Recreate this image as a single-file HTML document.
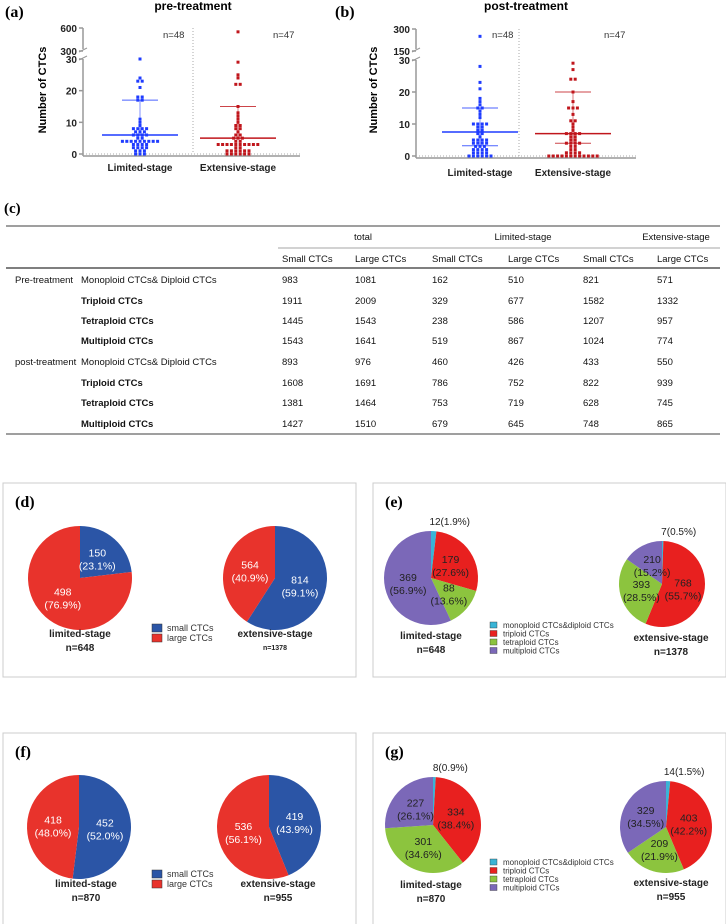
<!DOCTYPE html>
<html><head><meta charset="utf-8"><style>
body{margin:0;background:#fff;width:726px;height:924px;overflow:hidden;font-family:"Liberation Sans",sans-serif}
svg{position:absolute;left:0;top:0}
</style></head><body>
<svg id="s" width="726" height="924" viewBox="0 0 726 924"></svg>
<script>
// ---- Data ----
const preLimited=[30,24,23,23,21,18,18,17,17,11,10,9,8,8,8,8,7,7,7,6,6,6,6,5,5,4,4,4,4,4,4,4,4,4,3,3,3,3,2,2,2,2,1,1,1,0,0,0];
const preExtensive=[550,29,25,24,22,22,15,13,12,11,10,9,9,8,8,7,6,6,5,5,5,4,4,3,3,3,3,3,3,3,3,3,3,2,2,1,1,1,1,1,1,0,0,0,0,0,0];
const postLimited=[250,28,23,21,18,17,16,15,15,14,13,12,10,10,10,10,9,9,8,8,7,7,6,5,5,5,5,4,4,4,4,3,3,3,2,2,2,2,1,1,1,1,0,0,0,0,0,0];
const postExtensive=[29,27,24,24,20,17,15,15,15,13,11,11,10,9,8,7,7,7,7,6,6,5,5,4,4,4,4,3,3,2,2,1,1,1,1,0,0,0,0,0,0,0,0,0,0,0,0];
const preStats=[[6,17,0],[5,15,0]];   // median, upper, lower (0 = none)
const postStats=[[7.5,15,3.2],[7,20,4]];
const tableHead=["Small CTCs","Large CTCs","Small CTCs","Large CTCs","Small CTCs","Large CTCs"];
const rowGroups=["Pre-treatment","","","","post-treatment","","",""];
const rowNames=["Monoploid CTCs& Diploid CTCs","Triploid CTCs","Tetraploid CTCs","Multiploid CTCs","Monoploid CTCs& Diploid CTCs","Triploid CTCs","Tetraploid CTCs","Multiploid CTCs"];
const tableVals=[[983,1081,162,510,821,571],[1911,2009,329,677,1582,1332],[1445,1543,238,586,1207,957],[1543,1641,519,867,1024,774],[893,976,460,426,433,550],[1608,1691,786,752,822,939],[1381,1464,753,719,628,745],[1427,1510,679,645,748,865]];
const dLim=[150,498], dExt=[814,564];
const fLim=[452,418], fExt=[419,536];
const eLim=[12,179,88,369], eExt=[7,768,393,210];
const gLim=[8,334,301,227], gExt=[14,403,209,329];

const S=document.getElementById('s');const NS='http://www.w3.org/2000/svg';
function el(t,a,p){const e=document.createElementNS(NS,t);for(const k in a)e.setAttribute(k,a[k]);(p||S).appendChild(e);return e;}
function tx(x,y,s,a,name){const e=el('text',Object.assign({x:x,y:y},a||{}));e.textContent=s;return e;}

// ---- Scatter panels ----
function scatter(o){
  const g=el('g',{});
  const y=v=>{ if(v<=30) return o.y0-(o.y0-o.y30)*v/30; return o.yb-(o.yb-o.yt)*(v-o.b)/(o.t-o.b);};
  tx(o.lx,o.ly,o.lab,{'font-family':'Liberation Serif','font-weight':'bold','font-size':16},o.name+'-letter');
  tx(o.tcx,10,o.title,{'font-weight':'bold','font-size':12,'text-anchor':'middle'},o.name+'-title');
  el('line',{x1:o.ax,y1:o.yt,x2:o.ax,y2:o.yb-2,stroke:'#999','stroke-width':1.5},g);
  el('line',{x1:o.ax,y1:o.y30,x2:o.ax,y2:o.y0+2,stroke:'#999','stroke-width':1.5},g);
  el('line',{x1:o.ax-4,y1:o.yb+1,x2:o.ax+4,y2:o.yb-3,stroke:'#999'},g);
  el('line',{x1:o.ax-4,y1:o.y30+1,x2:o.ax+4,y2:o.y30-3,stroke:'#999'},g);
  el('line',{x1:o.ax,y1:o.y0+2,x2:o.axe,y2:o.y0+2,stroke:'#999','stroke-width':1.5},g);
  el('line',{x1:o.ax,y1:o.y0,x2:o.axe,y2:o.y0,stroke:'#aaa','stroke-dasharray':'1 2'},g);
  el('line',{x1:o.div,y1:o.yt,x2:o.div,y2:o.y0,stroke:'#aaa','stroke-dasharray':'1 2'},g);
  [[0,'0'],[10,'10'],[20,'20'],[30,'30'],[o.b,String(o.b)],[o.t,String(o.t)]].forEach(t=>{
    const yy=y(t[0]);el('line',{x1:o.ax-4,y1:yy,x2:o.ax,y2:yy,stroke:'#999','stroke-width':1.5},g);
    tx(o.ax-6,yy+4,t[1],{'font-size':10,'font-weight':'bold','text-anchor':'end','fill':'#222'},'y-tick');
  });
  tx(0,0,'Number of CTCs',{'font-size':11,'font-weight':'bold','text-anchor':'middle',transform:`translate(${o.ytx},90) rotate(-90)`},'y-axis-title');
  [[o.c1,o.d1,'#1f3cff','Limited-stage',o.st[0],'n=48',o.n1],[o.c2,o.d2,'#c0161c','Extensive-stage',o.st[1],'n=47',o.n2]].forEach(s=>{
    const cnt={};
    s[1].forEach(v=>{cnt[v]=(cnt[v]||0)+1});
    const used={};
    s[1].forEach(v=>{const k=used[v]||0;used[v]=k+1;const n=cnt[v];const xx=s[0]+(k-(n-1)/2)*4.4;
      const p=el('rect',{x:xx-1.5,y:y(v)-1.5,width:3,height:3,fill:s[2]},g);});
    const st=s[4];
    const m=el('line',{x1:s[0]-38,x2:s[0]+38,y1:y(st[0]),y2:y(st[0]),stroke:s[2],'stroke-width':1.5},g);
    el('line',{x1:s[0],x2:s[0],y1:y(st[1]),y2:y(st[2]||st[0]),stroke:s[2],'stroke-width':0.8,opacity:.7},g);
    el('line',{x1:s[0]-18,x2:s[0]+18,y1:y(st[1]),y2:y(st[1]),stroke:s[2],'stroke-width':1,opacity:.8},g);
    if(st[2])el('line',{x1:s[0]-18,x2:s[0]+18,y1:y(st[2]),y2:y(st[2]),stroke:s[2],'stroke-width':1,opacity:.8},g);
    tx(s[0],o.xly,s[3],{'font-size':10,'font-weight':'bold','text-anchor':'middle','fill':'#222'},'x-tick');
    tx(s[6],38,s[5],{'font-size':9.5,'fill':'#333'},'n-label');
  });
}
scatter({name:'panel-a',lab:'(a)',lx:5,ly:17,title:'pre-treatment',tcx:193,ax:83,axe:300,div:193,yt:28,yb:51,y30:59,y0:154,b:300,t:600,c1:140,c2:238,d1:preLimited,d2:preExtensive,st:preStats,xly:171,ytx:46,n1:163,n2:273});
scatter({name:'panel-b',lab:'(b)',lx:335,ly:17,title:'post-treatment',tcx:526,ax:416,axe:636,div:519,yt:29,yb:51,y30:60,y0:156,b:150,t:300,c1:480,c2:573,d1:postLimited,d2:postExtensive,st:postStats,xly:176,ytx:377,n1:492,n2:604});

// ---- Table ----
tx(4,213,'(c)',{'font-family':'Liberation Serif','font-weight':'bold','font-size':15},'panel-c-letter');
el('line',{x1:6,x2:720,y1:226,y2:226,stroke:'#666','stroke-width':1.2});
el('line',{x1:278,x2:720,y1:248,y2:248,stroke:'#888','stroke-width':0.8});
el('line',{x1:6,x2:720,y1:268,y2:268,stroke:'#555','stroke-width':1.6});
el('line',{x1:6,x2:720,y1:434,y2:434,stroke:'#666','stroke-width':1.2});
const tf={'font-size':9.5,'fill':'#111'};
[['total',363],['Limited-stage',523],['Extensive-stage',676]].forEach(h=>tx(h[1],240,h[0],Object.assign({'text-anchor':'middle'},tf),'column-group-header'));
const cx=[282,355,432,508,583,657];
tableHead.forEach((h,i)=>tx(cx[i],262,h,tf,'column-header'));
const ry=[283,304,324,344,365,386,406,427];
rowNames.forEach((r,i)=>{
  if(rowGroups[i])tx(15,ry[i],rowGroups[i],tf,'row-group');
  tx(81,ry[i],r,Object.assign({'font-weight':i%4?'bold':'normal'},tf),'row-name');
  tableVals[i].forEach((v,j)=>tx(cx[j],ry[i],String(v),tf,'table-cell'));
});

// ---- Pies ----
const C2=['#2b55a6','#e8332c'], C4=['#3ab4d6','#e8201f','#8cc43e','#7b68b8'];
function pie(cx,cy,r,vals,cols,txtCol,name){
  const g=el('g',{});
  const tot=vals.reduce((a,b)=>a+b,0);let a0=-Math.PI/2;
  vals.forEach((v,i)=>{
    const a1=a0+2*Math.PI*v/tot;const large=(a1-a0)>Math.PI?1:0;
    const p=el('path',{d:`M${cx},${cy}L${cx+r*Math.cos(a0)},${cy+r*Math.sin(a0)}A${r},${r} 0 ${large} 1 ${cx+r*Math.cos(a1)},${cy+r*Math.sin(a1)}Z`,fill:cols[i]},g);
    
    const am=(a0+a1)/2;const pct=(100*v/tot).toFixed(1)+'%';
    if(v/tot<0.05){tx(cx+r*Math.cos(am)+16,cy+r*Math.sin(am)-6,v+'('+pct+')',{'font-size':10,'text-anchor':'middle','fill':'#222'},'slice-label');}
    else{const lx=cx+r*0.5*Math.cos(am),ly=cy+r*0.5*Math.sin(am);
      tx(lx,ly-2,String(v),{'font-size':10.5,'text-anchor':'middle','fill':txtCol[i]},'slice-label');
      tx(lx,ly+11,'('+pct+')',{'font-size':10.5,'text-anchor':'middle','fill':txtCol[i]},'slice-label');}
    a0=a1;
  });
}
function box(x,y,w,h,lab,name){const b=el('rect',{x:x,y:y,width:w,height:h,fill:'none',stroke:'#ccc','stroke-width':1});
  tx(x+12,y+24,lab,{'font-family':'Liberation Serif','font-weight':'bold','font-size':16},name+'-letter');}
function caption(x,y,a,b,small){tx(x,y,a,{'font-size':10,'font-weight':'bold','text-anchor':'middle',fill:'#222'},'pie-caption');tx(x,y+(small?13:14),b,{'font-size':small?7:10,'font-weight':'bold','text-anchor':'middle',fill:'#222'},'pie-n');}
function legend2(x,y){[['small CTCs',C2[0]],['large CTCs',C2[1]]].forEach((l,i)=>{el('rect',{x:x,y:y+i*10-7,width:10,height:8,fill:l[1],stroke:'#333','stroke-width':.5});tx(x+15,y+i*10,l[0],{'font-size':9,fill:'#333'},'legend-entry');});}
function legend4(x,y){['monoploid CTCs&diploid CTCs','triploid CTCs','tetraploid CTCs','multiploid CTCs'].forEach((l,i)=>{el('rect',{x:x,y:y+i*8.5-6,width:7,height:6,fill:C4[i],stroke:'#333','stroke-width':.4});tx(x+13,y+i*8.5,l,{'font-size':8,fill:'#333'},'legend-entry');});}
const W=['#fff','#fff'], D=['#222','#222','#222','#222'];

box(3,483,353,194,'(d)','panel-d');
pie(80,578,52,dLim,C2,W,'pie-d-limited');pie(275,578,52,dExt,C2,W,'pie-d-extensive');
legend2(152,631);caption(80,637,'limited-stage','n=648');caption(275,637,'extensive-stage','n=1378',true);

box(373,483,353,194,'(e)','panel-e');
pie(431,578,47,eLim,C4,D,'pie-e-limited');pie(662,584,43,eExt,C4,D,'pie-e-extensive');
legend4(490,628);caption(431,639,'limited-stage','n=648');caption(671,641,'extensive-stage','n=1378');

box(3,733,353,200,'(f)','panel-f');
pie(79,827,52,fLim,C2,W,'pie-f-limited');pie(269,827,52,fExt,C2,W,'pie-f-extensive');
legend2(152,877);caption(86,887,'limited-stage','n=870');caption(278,887,'extensive-stage','n=955');

box(373,733,353,200,'(g)','panel-g');
pie(433,825,48,gLim,C4,D,'pie-g-limited');pie(666,827,46,gExt,C4,D,'pie-g-extensive');
legend4(490,865);caption(431,888,'limited-stage','n=870');caption(671,886,'extensive-stage','n=955');
</script>
</body></html>
